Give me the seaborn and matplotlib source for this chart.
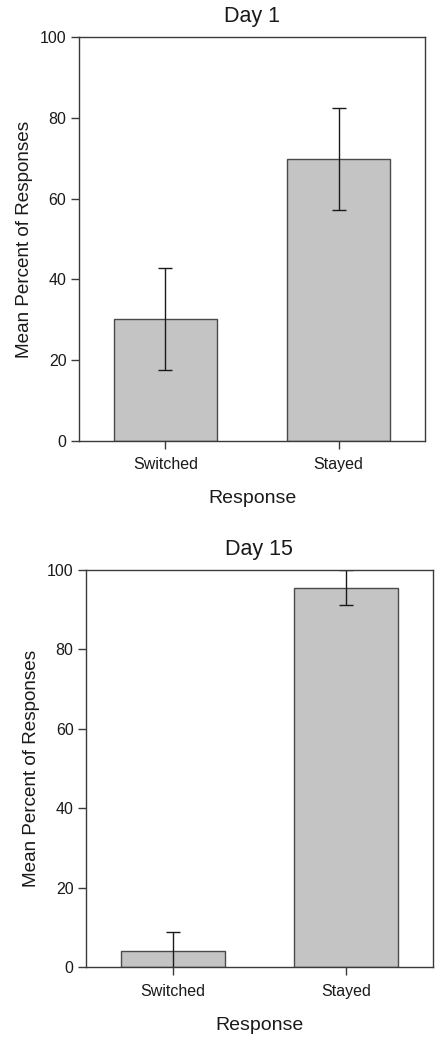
import matplotlib
matplotlib.use("Agg")
import matplotlib.pyplot as plt
import seaborn as sns
import pandas as pd

categories = ["Switched", "Stayed"]
day1_means = [30.2, 69.8]
day1_err = [12.6, 12.6]
day15_means = [4.2, 95.6]
day15_err = [4.6, 4.4]
yticks = [0, 20, 40, 60, 80, 100]
panel_titles = ["Day 1", "Day 15"]

sns.set_theme(style="white")
plt.rcParams['font.family'] = ['Liberation Sans', 'DejaVu Sans']

fig = plt.figure(figsize=(4.4, 10.5), dpi=100)
ax1 = fig.add_axes([0.1795, 0.5803, 0.966 - 0.1795, 0.9645 - 0.5803])
ax2 = fig.add_axes([0.1955, 0.0788, 0.9834 - 0.1955, 0.4571 - 0.0788])

edge = "#3a3a3a"
for ax, title, means, errs in [(ax1, panel_titles[0], day1_means, day1_err),
                               (ax2, panel_titles[1], day15_means, day15_err)]:
    df = pd.DataFrame({"Response": categories, "Value": means})
    sns.barplot(data=df, x="Response", y="Value", order=categories, ax=ax,
                color="#c4c4c4", edgecolor="#4a4a4a", linewidth=1.0,
                width=0.6, errorbar=None, saturation=1)
    ax.errorbar(x=list(range(len(categories))), y=means, yerr=errs,
                fmt="none", ecolor="#1a1a1a", elinewidth=1.0, capsize=5,
                capthick=1.0, clip_on=True)
    ax.set_xlim(-0.5, 1.5)
    ax.set_ylim(0, 100)
    ax.set_yticks(yticks)
    ax.set_yticklabels([str(t) for t in yticks])
    ax.set_title(title, fontsize=15.5, color="#1a1a1a", pad=11)
    ax.set_xlabel("Response", fontsize=14, color="#1a1a1a", labelpad=13)
    ax.set_ylabel("Mean Percent of Responses", fontsize=13.6, color="#1a1a1a", labelpad=5)
    ax.tick_params(axis="both", which="major", direction="out", length=6,
                   width=1.0, color=edge, labelsize=11.5, labelcolor="#1a1a1a",
                   bottom=True, left=True, pad=3)
    ax.tick_params(axis="x", pad=6)
    for s in ax.spines.values():
        s.set_visible(True)
        s.set_color(edge)
        s.set_linewidth(1.0)

fig.savefig("out.png", dpi=100)
